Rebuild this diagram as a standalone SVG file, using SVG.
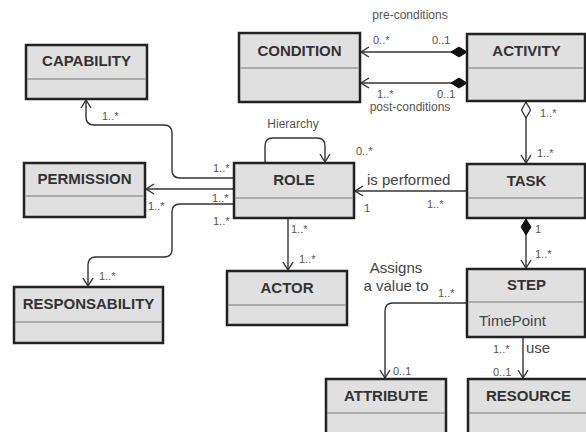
<svg xmlns="http://www.w3.org/2000/svg" width="586" height="432" viewBox="0 0 586 432">
  <style>
    .box { fill: #e0e0e0; stroke: #222; stroke-width: 2.5; }
    .sep { stroke: #9a9a9a; stroke-width: 1.5; }
    .title { font-family: "Liberation Sans", Arial, sans-serif; font-size: 15px; font-weight: bold; fill: #333; text-anchor: middle; }
    .attr { font-family: "Liberation Sans", Arial, sans-serif; font-size: 15px; fill: #444; }
    .lbl { font-family: "Liberation Sans", Arial, sans-serif; font-size: 11px; fill: #555; }
    .role { font-family: "Liberation Sans", Arial, sans-serif; font-size: 12px; fill: #555; text-anchor: middle; }
    .big { font-family: "Liberation Sans", Arial, sans-serif; font-size: 15px; fill: #444; }
    .edge { fill: none; stroke: #333; stroke-width: 1.4; }
  </style>
  <defs>
    <marker id="open" markerUnits="userSpaceOnUse" markerWidth="12" markerHeight="12" viewBox="-10 -6 12 12" refX="0" refY="0" orient="auto">
      <path d="M-8,-5 L0,0 L-8,5" fill="none" stroke="#333" stroke-width="1.4"/>
    </marker>
    <marker id="comp" markerUnits="userSpaceOnUse" markerWidth="20" markerHeight="12" viewBox="-1 -6 20 12" refX="0" refY="0" orient="auto">
      <path d="M0,0 L8,-5 L16,0 L8,5 Z" fill="#111" stroke="#111" stroke-width="1"/>
    </marker>
    <marker id="aggr" markerUnits="userSpaceOnUse" markerWidth="20" markerHeight="12" viewBox="-1 -6 20 12" refX="0" refY="0" orient="auto">
      <path d="M0,0 L8,-4.5 L16,0 L8,4.5 Z" fill="#fff" stroke="#333" stroke-width="1.3"/>
    </marker>
  </defs>

  <g id="connectors">
    <!-- ACTIVITY pre/post conditions -->
    <path class="edge" d="M467,52 H361" marker-start="url(#comp)" marker-end="url(#open)"/>
    <path class="edge" d="M467,83 H361" marker-start="url(#comp)" marker-end="url(#open)"/>
    <!-- ACTIVITY to TASK -->
    <path class="edge" d="M526,102 V163" marker-start="url(#aggr)" marker-end="url(#open)"/>
    <!-- TASK to ROLE -->
    <path class="edge" d="M467,191 H355" marker-end="url(#open)"/>
    <!-- TASK to STEP -->
    <path class="edge" d="M526,219 V268" marker-start="url(#comp)" marker-end="url(#open)"/>
    <!-- STEP to ATTRIBUTE -->
    <path class="edge" d="M467,303 H393 Q385,303 385,311 V378" marker-end="url(#open)"/>
    <!-- STEP to RESOURCE -->
    <path class="edge" d="M523,337 V378" marker-end="url(#open)"/>
    <!-- ROLE hierarchy -->
    <path class="edge" d="M265,163 V146 Q265,138 273,138 H317 Q325,138 325,146 V162" marker-end="url(#open)"/>
    <!-- ROLE to ACTOR -->
    <path class="edge" d="M288,219 V270" marker-end="url(#open)"/>
    <!-- ROLE to CAPABILITY -->
    <path class="edge" d="M234,178 H180 Q172,178 172,170 V133 Q172,125 164,125 H94 Q86,125 86,117 V100" marker-end="url(#open)"/>
    <!-- ROLE to PERMISSION -->
    <path class="edge" d="M234,189 H146" marker-end="url(#open)"/>
    <!-- ROLE to RESPONSABILITY -->
    <path class="edge" d="M234,204 H180 Q172,204 172,212 V249 Q172,257 164,257 H96 Q88,257 88,265 V286" marker-end="url(#open)"/>
  </g>

  <g id="edge-labels">
    <text class="role" x="410" y="19">pre-conditions</text>
    <text class="lbl" x="373" y="44">0..*</text>
    <text class="lbl" x="432" y="44">0..1</text>
    <text class="lbl" x="377" y="98">1..*</text>
    <text class="lbl" x="437" y="98">0..1</text>
    <text class="role" x="410" y="111">post-conditions</text>
    <text class="lbl" x="540" y="117">1..*</text>
    <text class="lbl" x="537" y="157">1..*</text>
    <text class="big" x="367" y="185">is performed</text>
    <text class="lbl" x="364" y="212">1</text>
    <text class="lbl" x="427" y="208">1..*</text>
    <text class="lbl" x="535" y="233">1</text>
    <text class="lbl" x="535" y="258">1..*</text>
    <text class="role" x="293" y="128">Hierarchy</text>
    <text class="lbl" x="356" y="155">0..*</text>
    <text class="lbl" x="291" y="233">1..*</text>
    <text class="lbl" x="299" y="263">1..*</text>
    <text class="lbl" x="213" y="172">1..*</text>
    <text class="lbl" x="212" y="202">1..*</text>
    <text class="lbl" x="213" y="225">1..*</text>
    <text class="lbl" x="148" y="210">1..*</text>
    <text class="lbl" x="102" y="120">1..*</text>
    <text class="lbl" x="99" y="280">1..*</text>
    <text class="big" x="396" y="273" text-anchor="middle">Assigns</text>
    <text class="big" x="396" y="291" text-anchor="middle">a value to</text>
    <text class="lbl" x="438" y="297">1..*</text>
    <text class="lbl" x="393" y="375">0..1</text>
    <text class="lbl" x="493" y="353">1..*</text>
    <text class="big" x="526" y="353">use</text>
    <text class="lbl" x="493" y="376">0..1</text>
  </g>

  <g id="capability">
    <rect class="box" x="26" y="45" width="121" height="54"/>
    <line class="sep" x1="27" y1="79" x2="146" y2="79"/>
    <text class="title" x="86.5" y="66">CAPABILITY</text>
  </g>
  <g id="permission">
    <rect class="box" x="24" y="163" width="121" height="54"/>
    <line class="sep" x1="25" y1="196" x2="144" y2="196"/>
    <text class="title" x="84.5" y="184">PERMISSION</text>
  </g>
  <g id="responsability">
    <rect class="box" x="14" y="287" width="149" height="56"/>
    <line class="sep" x1="15" y1="322" x2="162" y2="322"/>
    <text class="title" x="88.5" y="309">RESPONSABILITY</text>
  </g>
  <g id="role">
    <rect class="box" x="234" y="163" width="120" height="55"/>
    <line class="sep" x1="235" y1="198" x2="353" y2="198"/>
    <text class="title" x="294" y="185">ROLE</text>
  </g>
  <g id="actor">
    <rect class="box" x="227" y="271" width="120" height="54"/>
    <line class="sep" x1="228" y1="305" x2="346" y2="305"/>
    <text class="title" x="287" y="293">ACTOR</text>
  </g>
  <g id="condition">
    <rect class="box" x="239" y="33" width="121" height="69"/>
    <line class="sep" x1="240" y1="68" x2="359" y2="68"/>
    <text class="title" x="299.5" y="56">CONDITION</text>
  </g>
  <g id="activity">
    <rect class="box" x="467" y="34" width="118" height="67"/>
    <line class="sep" x1="468" y1="68" x2="584" y2="68"/>
    <text class="title" x="526.5" y="56">ACTIVITY</text>
  </g>
  <g id="task">
    <rect class="box" x="467" y="164" width="118" height="54"/>
    <line class="sep" x1="468" y1="198" x2="584" y2="198"/>
    <text class="title" x="526.5" y="186">TASK</text>
  </g>
  <g id="step">
    <rect class="box" x="467" y="269" width="118" height="68"/>
    <line class="sep" x1="468" y1="302" x2="584" y2="302"/>
    <text class="title" x="526.5" y="290">STEP</text>
    <text class="attr" x="479" y="326">TimePoint</text>
  </g>
  <g id="attribute">
    <rect class="box" x="326" y="379" width="120" height="60"/>
    <line class="sep" x1="327" y1="413" x2="445" y2="413"/>
    <text class="title" x="386" y="401">ATTRIBUTE</text>
  </g>
  <g id="resource">
    <rect class="box" x="468" y="379" width="122" height="60"/>
    <line class="sep" x1="469" y1="413" x2="589" y2="413"/>
    <text class="title" x="528.5" y="401">RESOURCE</text>
  </g>
</svg>
